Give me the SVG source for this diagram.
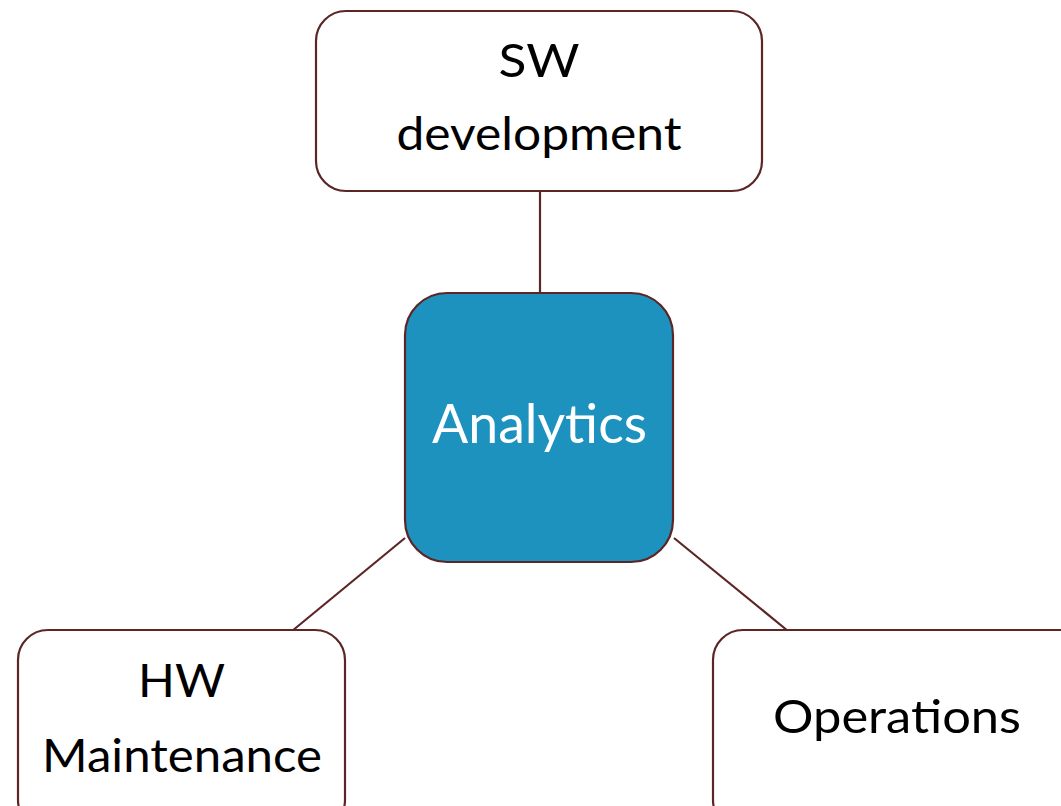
<svg xmlns="http://www.w3.org/2000/svg" width="1061" height="806" viewBox="0 0 1061 806">
<style>
.box{fill:#fff;stroke:#5c2526;stroke-width:2.2}
.hub{fill:#1e92bf;stroke:#5c2526;stroke-width:2.2}
.t{font-family:"Lato","Liberation Sans",sans-serif;font-size:46px;fill:#000;text-anchor:middle}
.w{font-family:"Lato","Liberation Sans",sans-serif;font-size:54px;fill:#fff;text-anchor:middle}
.c{stroke:#5c2526;stroke-width:2.2;fill:none}
</style>
<rect width="1061" height="806" fill="#fff"/>
<g id="connectors">
<line class="c" x1="540" y1="191" x2="540" y2="294"/>
<line class="c" x1="405" y1="538" x2="292" y2="631"/>
<line class="c" x1="674" y1="538" x2="788" y2="631"/>
</g>
<g id="sw">
<rect class="box" x="316" y="11" width="446" height="180" rx="30"/>
<text class="t" x="539" y="77" textLength="81" lengthAdjust="spacingAndGlyphs">SW</text>
<text class="t" x="539" y="150" textLength="285" lengthAdjust="spacingAndGlyphs">development</text>
</g>
<g id="analytics">
<rect class="hub" x="405" y="293" width="268" height="269" rx="42"/>
<text class="w" x="539.5" y="443" textLength="215" lengthAdjust="spacingAndGlyphs">Analytics</text>
</g>
<g id="hw">
<rect class="box" x="18" y="630" width="327" height="200" rx="30"/>
<text class="t" x="181.5" y="697" textLength="87" lengthAdjust="spacingAndGlyphs">HW</text>
<text class="t" x="182" y="772" textLength="280" lengthAdjust="spacingAndGlyphs">Maintenance</text>
</g>
<g id="operations">
<rect class="box" x="713" y="630" width="400" height="200" rx="30"/>
<text class="t" x="897" y="733" textLength="248" lengthAdjust="spacingAndGlyphs">Operations</text>
</g>
</svg>
